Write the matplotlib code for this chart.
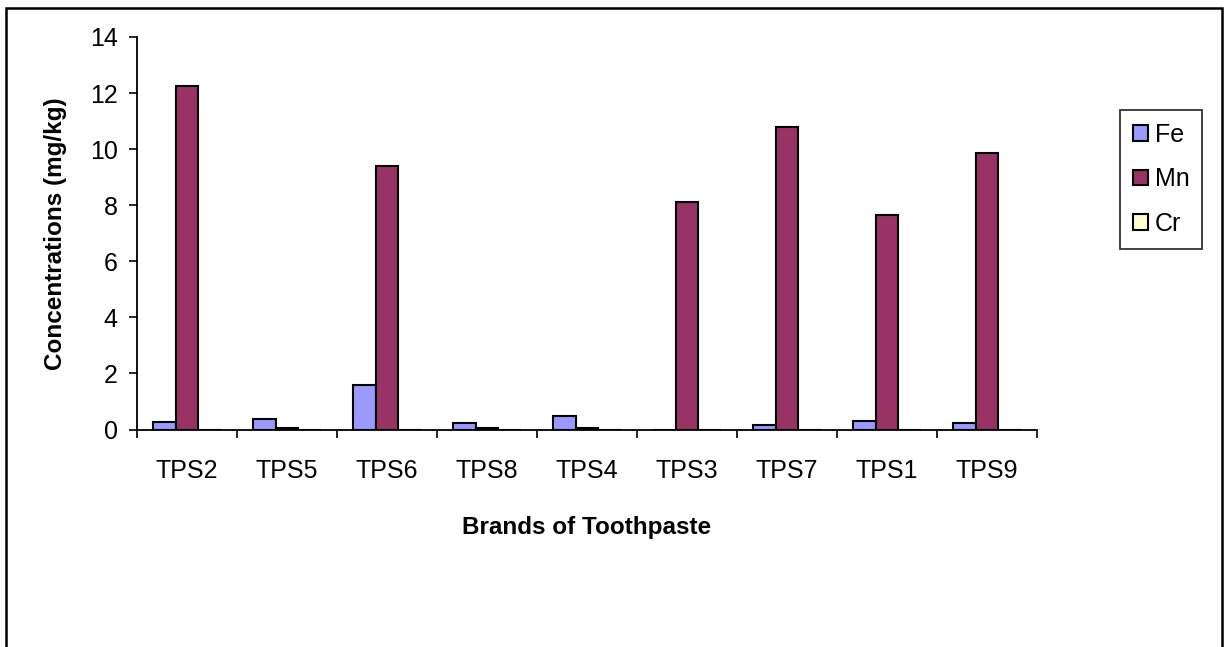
import matplotlib
matplotlib.use("Agg")
import matplotlib.pyplot as plt
import numpy as np
from matplotlib.patches import Rectangle

categories = ["TPS2", "TPS5", "TPS6", "TPS8", "TPS4", "TPS3", "TPS7", "TPS1", "TPS9"]
fe = [0.25, 0.38, 1.6, 0.24, 0.47, 0.0, 0.17, 0.32, 0.24]
mn = [12.25, 0.07, 9.4, 0.07, 0.07, 8.1, 10.8, 7.64, 9.86]
cr = [0.0, 0.0, 0.0, 0.0, 0.0, 0.0, 0.0, 0.0, 0.0]
series_names = ["Fe", "Mn", "Cr"]
colors = ["#9999FF", "#993366", "#FFFFCC"]
yticks = [0, 2, 4, 6, 8, 10, 12, 14]

plt.rcParams['font.family'] = ['Liberation Sans', 'DejaVu Sans']

W, H = 1225, 647
fig = plt.figure(figsize=(W / 100, H / 100), dpi=100)
ax = fig.add_axes([137 / W, 1 - 429.5 / H, 900 / W, (429.5 - 37) / H])

x = np.arange(len(categories)) + 0.5
bw = 0.229
for i, (vals, name, col) in enumerate(zip([fe, mn, cr], series_names, colors)):
    ax.bar(x + (i - 1) * bw, vals, width=bw, color=col, edgecolor='black',
           linewidth=1.5, label=name, zorder=3)

ax.set_xlim(0, len(categories))
ax.set_ylim(0, 14)
ax.set_yticks(yticks)
ax.set_yticklabels([str(v) for v in yticks], fontsize=18)
ax.tick_params(axis='y', direction='out', length=6, width=1.2, pad=8, colors='black')

ax.set_xticks(np.arange(len(categories) + 1))
ax.set_xticklabels([])
ax.set_xticks(x, minor=True)
ax.set_xticklabels(categories, minor=True, fontsize=18)
ax.tick_params(axis='x', which='major', direction='out', length=6, width=1.2)
ax.tick_params(axis='x', which='minor', length=0, pad=21)

for s in ['top', 'right']:
    ax.spines[s].set_visible(False)
ax.spines['left'].set_linewidth(1.3)
ax.spines['bottom'].set_linewidth(1.3)
ax.spines['left'].set_zorder(4)
ax.spines['bottom'].set_zorder(4)

ax.set_ylabel("Concentrations (mg/kg)", fontsize=17.5, fontweight='bold', labelpad=16)
ax.set_xlabel("Brands of Toothpaste", fontsize=17.5, fontweight='bold', labelpad=24)

leg = ax.legend(loc='upper left', bbox_to_anchor=(1120 / W, 1 - 110 / H),
                bbox_transform=fig.transFigure, fontsize=18, frameon=True,
                fancybox=False, handlelength=0.6, handleheight=0.6,
                handletextpad=0.3, labelspacing=0.83, borderpad=0.5,
                borderaxespad=0)
leg.get_frame().set_edgecolor('black')
leg.get_frame().set_linewidth(1.3)

# outer chart frame
fig.patches.append(Rectangle((6 / W, -0.05), (1222 - 6) / W, 1.05 - 8 / H,
                             transform=fig.transFigure, fill=False,
                             edgecolor='black', linewidth=1.8, clip_on=False))

fig.savefig("out.png", dpi=100)
